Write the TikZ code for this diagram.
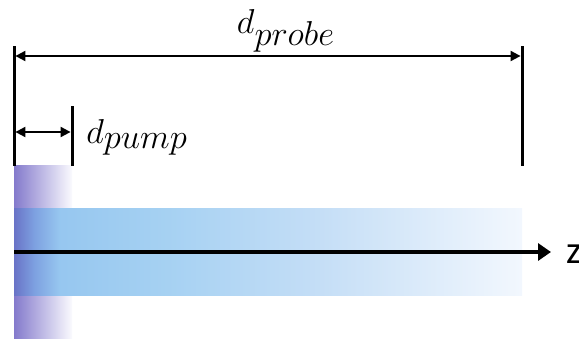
\documentclass[tikz,border=0pt]{standalone}
\usepackage{fontspec}
\newfontfamily\zfont{Carlito}
\usetikzlibrary{arrows.meta}
\DeclareMathSizes{18.5}{18.5}{17}{12}
\definecolor{pumpcol}{RGB}{132,122,204}
\definecolor{pumpend}{RGB}{250,250,254}
\pgfdeclarehorizontalshading{beam}{100bp}{rgb(0bp)=(0.41,0.45,0.78); rgb(25bp)=(0.41,0.45,0.78); rgb(27bp)=(0.49,0.63,0.88); rgb(29.5bp)=(0.59,0.78,0.94); rgb(40bp)=(0.65,0.82,0.95); rgb(55bp)=(0.77,0.87,0.965); rgb(65bp)=(0.86,0.92,0.98); rgb(75bp)=(0.95,0.97,0.995); rgb(100bp)=(0.95,0.97,0.995)}
\tikzset{
  wall/.style={line width=1.5pt},
  span/.style={line width=1pt,<->,>={Triangle[length=5pt,width=5pt]}},
  lbl/.style={inner sep=0pt,font=\fontsize{18.5}{21}\selectfont},
}
\begin{document}
\begin{tikzpicture}[x=0.5pt,y=-0.5pt]
\useasboundingbox (0,0) rectangle (579,339);
% pump and probe regions
\shade[left color=pumpcol,right color=pumpend] (14,165) rectangle (72,338);
\shade[shading=beam] (14,208) rectangle (522,295);

% z axis
\coordinate (o) at (14,252);
\node[anchor=west,inner xsep=7.5pt,inner ysep=0pt,font=\zfont\fontsize{19.5}{22}\selectfont] (z) at (551,254) {z};
\draw[line width=2pt,-{Triangle[length=6.5pt,width=8.5pt]}] (o) -- (o -| z.west);

% walls
\foreach \x/\t in {14/46,72/106,522/46}
{
    \draw[wall](\x,\t)--(\x,166);
}

% spans
\coordinate (pl) at (14,56);
\coordinate (pr) at (522,56);
\coordinate (ql) at (14,132);
\coordinate (qr) at (72,132);
\draw[span,shorten <=0.7pt,shorten >=0.7pt] (pl) -- (pr);
\draw[span,shorten <=0.7pt,shorten >=0.7pt] (ql) -- (qr);
\node[lbl,anchor=base] (probe) at (286,33) {$d_{probe}$};
\node[lbl,anchor=base west] (pump) at (86,143) {$d_{pump}$};
\end{tikzpicture}
\end{document}
